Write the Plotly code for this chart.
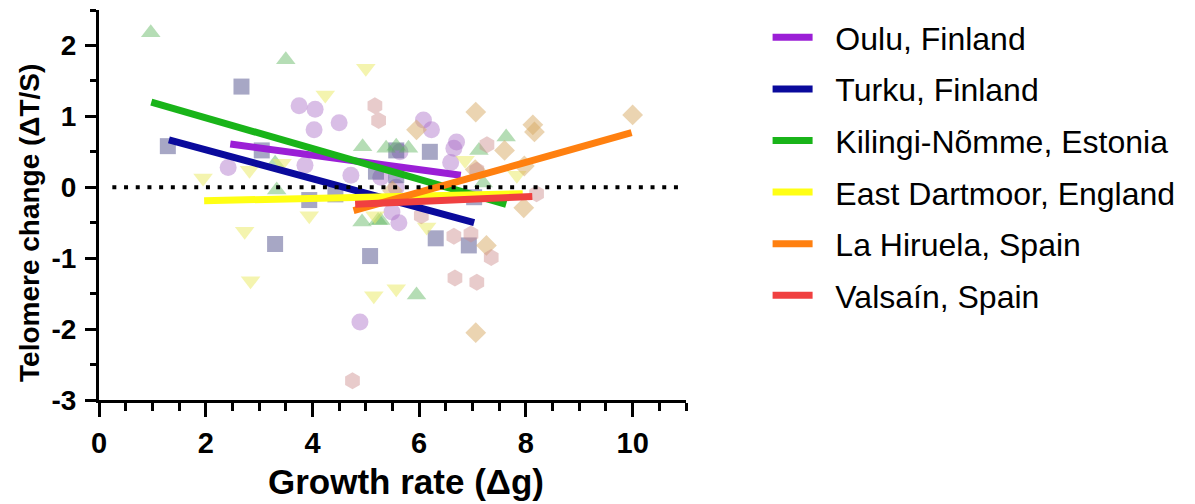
import plotly.graph_objects as go

# ---------------- data ----------------
site_names = ["Oulu, Finland", "Turku, Finland", "Kilingi-Nõmme, Estonia",
              "East Dartmoor, England", "La Hiruela, Spain", "Valsaín, Spain"]

oulu_x = [3.75, 4.05, 4.03, 4.50, 2.42, 3.86, 4.72, 6.08, 6.23, 6.70, 6.59, 5.62, 5.49, 4.89, 6.65, 5.28, 5.64, 5.57]
oulu_y = [1.15, 1.10, 0.81, 0.91, 0.28, 0.31, 0.17, 0.95, 0.81, 0.64, 0.35, -0.50, -0.35, -1.90, 0.55, 0.14, 0.50, 0.00]

turku_x = [1.29, 2.67, 3.05, 3.94, 4.43, 5.19, 5.57, 3.30, 5.08, 6.31, 6.93, 6.20, 5.57, 7.03]
turku_y = [0.58, 1.42, 0.52, -0.18, -0.10, 0.22, 0.52, -0.80, -0.97, -0.72, -0.82, 0.50, 0.17, -0.14]

kil_x = [0.97, 3.50, 3.33, 3.30, 4.94, 5.38, 5.57, 5.80, 4.93, 5.28, 5.95, 7.63, 7.12, 7.20, 5.23]
kil_y = [2.18, 1.80, -0.04, 0.34, 0.57, 0.55, 0.58, 0.55, -0.49, -0.47, -1.52, 0.71, 0.52, 0.06, -0.47]

dart_x = [1.95, 2.82, 3.43, 4.24, 5.00, 3.94, 2.73, 2.84, 5.15, 5.57, 6.14, 5.17, 6.86, 7.83]
dart_y = [0.13, 0.24, 0.34, 1.30, 1.68, -0.40, -0.62, -1.32, -1.53, -1.43, -0.56, -0.40, 0.38, 0.17]

hir_x = [7.06, 10.00, 8.13, 8.16, 5.95, 7.60, 7.05, 7.97, 7.26, 7.06, 7.96, 5.50]
hir_y = [1.06, 1.02, 0.88, 0.78, 0.81, 0.52, 0.25, 0.30, -0.82, -2.05, -0.29, -0.05]

val_x = [5.17, 5.24, 4.75, 6.65, 6.67, 7.08, 6.97, 7.35, 6.04, 8.20, 7.27, 7.08]
val_y = [1.15, 0.94, -2.73, -0.69, -1.28, -1.34, -0.66, -0.99, -0.40, -0.09, 0.60, 0.24]

# regression line end points
fit_x0 = [2.46, 1.31, 0.98, 1.97, 4.77, 4.80]
fit_y0 = [0.61, 0.67, 1.20, -0.19, -0.33, -0.24]
fit_x1 = [6.78, 7.03, 7.63, 7.94, 9.98, 8.12]
fit_y1 = [0.17, -0.50, -0.24, -0.09, 0.77, -0.13]

x_tickvals = [0, 2, 4, 6, 8, 10]
x_ticktext = ["0", "2", "4", "6", "8", "10"]
y_tickvals = [-3, -2, -1, 0, 1, 2]
y_ticktext = ["-3", "-2", "-1", "0", "1", "2"]

x_title = "Growth rate (Δg)"
y_title = "Telomere change (ΔT/S)"

# ---------------- styles ----------------
line_colors = ["#9b1fd6", "#0a0a9c", "#19b419", "#ffff14", "#ff8010", "#f04040"]
marker_fill = ["rgba(170,110,200,0.45)", "rgba(80,80,140,0.5)", "rgba(90,180,90,0.45)",
               "rgba(235,235,110,0.55)", "rgba(215,170,100,0.5)", "rgba(205,140,140,0.45)"]
marker_sym = ["circle", "square", "triangle-up", "triangle-down", "diamond", "hexagon"]
marker_size = [17, 16, 17, 17, 16, 17]

xs = [oulu_x, turku_x, kil_x, dart_x, hir_x, val_x]
ys = [oulu_y, turku_y, kil_y, dart_y, hir_y, val_y]

fig = go.Figure()
font_family = "Liberation Sans, Arial, sans-serif"
narrow_family = "Liberation Sans Narrow, Arial Narrow, Liberation Sans, sans-serif"
pad = "\u00a0\u00a0"  # visual gap between legend symbol and text

for i in range(6):
    fig.add_trace(go.Scatter(
        x=xs[i], y=ys[i], mode="markers", showlegend=False,
        marker=dict(symbol=marker_sym[i], size=marker_size[i], color=marker_fill[i],
                    line=dict(width=0)),
        hoverinfo="skip"))

for i in range(6):
    fig.add_trace(go.Scatter(
        x=[fit_x0[i], fit_x1[i]], y=[fit_y0[i], fit_y1[i]], mode="lines",
        name=pad + site_names[i], legendgroup=str(i),
        line=dict(color=line_colors[i], width=7)))

# dotted zero line
fig.add_shape(type="line", xref="x", yref="y", x0=0.25, x1=10.85, y0=0, y1=0,
              line=dict(color="black", width=4, dash="4px,7.7px"), layer="above")

# axis titles
fig.add_annotation(text="<b>" + x_title + "</b>", xref="paper", yref="paper",
                   x=0.523, y=-0.21, xanchor="center", yanchor="middle", showarrow=False,
                   font=dict(size=35, family=font_family, color="black"))
fig.add_annotation(text="<b>" + y_title + "</b>", xref="paper", yref="paper",
                   x=-0.1175, y=0.454, xanchor="center", yanchor="middle", showarrow=False,
                   textangle=-90, font=dict(size=28, family=font_family, color="black"))

# page body has an 8px margin, so the figure is offset by (8, 8)
fig.update_layout(
    width=1187, height=496,
    margin=dict(l=91, r=509, t=2, b=104),
    paper_bgcolor="white", plot_bgcolor="white",
    font=dict(family=narrow_family, size=28, color="black"),
    legend=dict(x=1.139, xanchor="left", y=1.0, yanchor="top",
                font=dict(size=32, family=font_family),
                tracegroupgap=7, itemwidth=40, bgcolor="rgba(0,0,0,0)"),
    xaxis=dict(range=[0, 11], showgrid=False, zeroline=False,
               showline=True, linecolor="black", linewidth=3,
               tickmode="array", tickvals=x_tickvals,
               ticktext=["<b>" + t + "</b>" for t in x_ticktext],
               ticks="outside", ticklen=14, tickwidth=3, tickcolor="black",
               minor=dict(dtick=0.5, tick0=0, ticks="outside", ticklen=8, tickwidth=3, tickcolor="black"),
               tickfont=dict(size=29, family=narrow_family, color="black"),
               ticklabelstandoff=1),
    yaxis=dict(range=[-3, 2.5], showgrid=False, zeroline=False,
               showline=True, linecolor="black", linewidth=3,
               tickmode="array", tickvals=y_tickvals,
               ticktext=["<b>" + t + "</b>" for t in y_ticktext],
               ticks="outside", ticklen=11, tickwidth=3, tickcolor="black",
               minor=dict(dtick=0.5, tick0=0, ticks="outside", ticklen=6, tickwidth=3, tickcolor="black"),
               tickfont=dict(size=28, family=narrow_family, color="black"),
               ticklabelstandoff=3),
)

fig.write_html("out.html")
